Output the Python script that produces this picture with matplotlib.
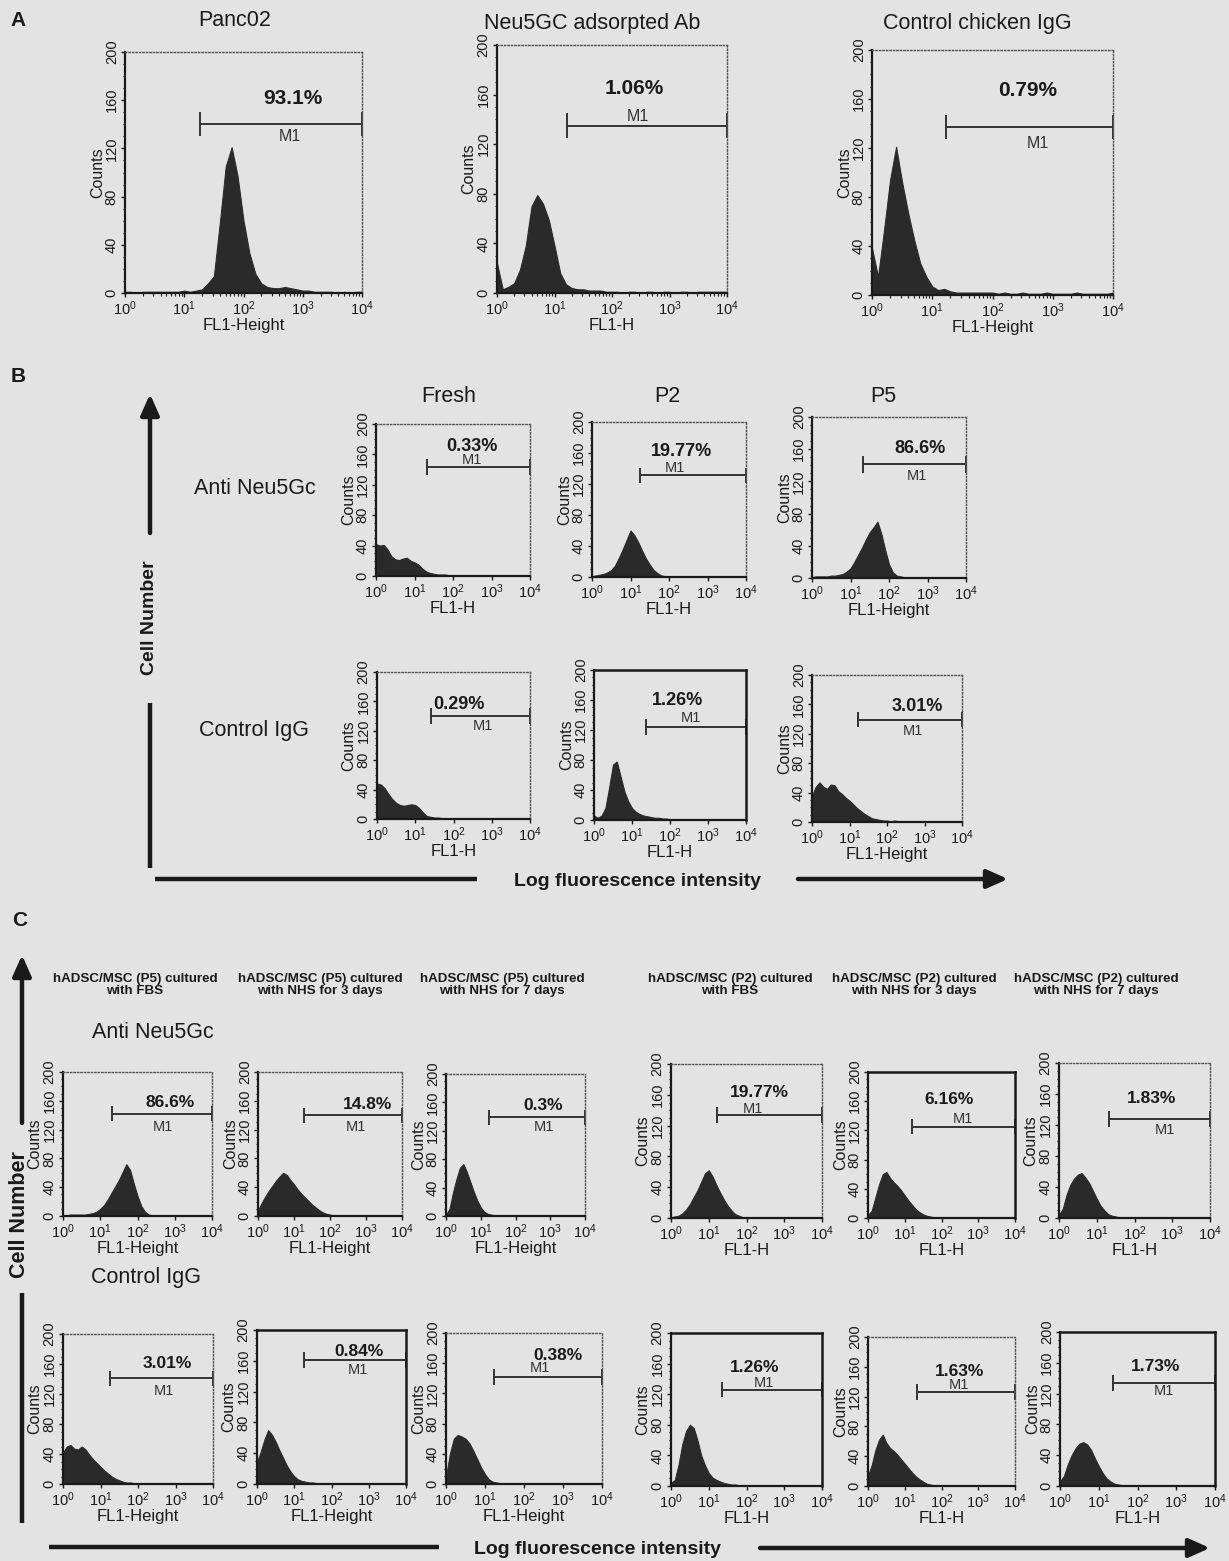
import numpy as np
import matplotlib
matplotlib.use("Agg")
import matplotlib.pyplot as plt
from matplotlib.patches import FancyArrowPatch
from matplotlib.lines import Line2D
from matplotlib.ticker import MultipleLocator, LogLocator, NullFormatter

plt.rcParams['font.family'] = ['Liberation Sans', 'DejaVu Sans']
plt.rcParams['mathtext.fontset'] = 'custom'
plt.rcParams['mathtext.rm'] = 'Liberation Sans'
plt.rcParams['mathtext.it'] = 'Liberation Sans:italic'
plt.rcParams['mathtext.bf'] = 'Liberation Sans:bold'

# FL1 channel grid in decades (10^0 .. 10^4), one bin per 0.1 decade
decades = np.round(np.linspace(0, 4, 41), 2)

# ---- A: Panc02 / adsorbed Ab / control chicken IgG ----
panc02 = [1, 1, 0, 1, 1, 1, 1, 1, 1, 1, 2, 1, 2, 3, 8, 14, 58, 105, 121, 97,
          60, 33, 16, 8, 5, 4, 4, 5, 4, 3, 2, 2, 1, 1, 1, 1, 0, 1, 0, 1, 1]
neu5gc_adsorbed = [24, 3, 5, 8, 19, 38, 70, 79, 72, 59, 38, 16, 7, 4, 3, 3, 2, 2, 2, 1,
                   1, 1, 0, 1, 1, 0, 1, 1, 0, 1, 1, 0, 1, 1, 0, 1, 1, 1, 1, 1, 1]
chicken_igg = [38, 15, 53, 94, 121, 92, 67, 45, 26, 15, 7, 4, 5, 3, 2, 2, 2, 2, 2, 2,
               2, 1, 2, 1, 1, 2, 1, 1, 1, 2, 1, 1, 1, 1, 2, 1, 1, 1, 1, 1, 2]
A_titles = ['Panc02', 'Neu5GC adsorpted Ab', 'Control chicken IgG']
A_pct = ['93.1%', '1.06%', '0.79%']
A_gate_start = [1.26, 1.21, 1.23]
A_gate_level = [140, 135, 137]

# ---- B: Fresh / P2 / P5, anti Neu5Gc (top) and control IgG (bottom) ----
fresh_anti = [42, 40, 41, 35, 26, 22, 21, 23, 24, 20, 18, 15, 10, 6, 4, 3, 2, 2, 2, 1,
              1, 1, 1, 1, 0, 1, 1, 0, 1, 1, 0, 1, 1, 0, 1, 0, 1, 1, 0, 1, 1]
p2_anti = [1, 2, 3, 4, 6, 9, 15, 25, 36, 48, 60, 54, 45, 34, 24, 16, 9, 5, 2, 1,
           1, 1, 0, 1, 0, 1, 1, 0, 1, 0, 1, 1, 0, 1, 0, 1, 0, 1, 1, 0, 1]
p5_anti = [1, 2, 2, 2, 2, 3, 3, 4, 5, 8, 12, 20, 29, 38, 48, 57, 63, 70, 55, 35,
           17, 7, 3, 2, 1, 1, 0, 1, 1, 0, 1, 0, 1, 1, 0, 1, 0, 1, 0, 1, 1]
fresh_ctrl = [48, 47, 42, 34, 27, 22, 19, 18, 19, 20, 19, 15, 9, 4, 3, 2, 2, 1, 1, 1,
              1, 1, 0, 1, 1, 0, 1, 0, 1, 1, 0, 1, 0, 1, 1, 0, 1, 0, 1, 0, 1]
p2_ctrl = [6, 3, 6, 16, 44, 74, 78, 58, 38, 25, 16, 11, 8, 6, 5, 4, 3, 3, 2, 2,
           1, 1, 1, 1, 0, 1, 1, 0, 1, 0, 1, 0, 1, 1, 0, 1, 0, 1, 0, 1, 1]
p5_ctrl = [36, 48, 54, 48, 45, 51, 50, 42, 38, 33, 29, 24, 19, 15, 11, 8, 5, 4, 3, 2,
           2, 1, 2, 1, 1, 1, 1, 0, 1, 1, 1, 0, 1, 1, 1, 0, 1, 1, 0, 1, 1]
B_cols = ['Fresh', 'P2', 'P5']
B_rows = ['Anti Neu5Gc', 'Control IgG']
B_pct_anti = ['0.33%', '19.77%', '86.6%']
B_pct_ctrl = ['0.29%', '1.26%', '3.01%']
B_gate_anti = [(1.33, 143), (1.24, 131), (1.32, 141)]
B_gate_ctrl = [(1.40, 140), (1.38, 124), (1.23, 139)]

# ---- C: P5 and P2 cells cultured with FBS / NHS 3 d / NHS 7 d ----
c_p5_fbs_anti = [1, 1, 2, 2, 2, 2, 2, 3, 4, 6, 10, 15, 23, 32, 41, 50, 61, 72, 64, 45,
                 28, 14, 6, 2, 1, 1, 0, 1, 1, 0, 1, 0, 1, 0, 1, 1, 0, 1, 0, 1, 1]
c_p5_nhs3_anti = [8, 18, 27, 35, 42, 49, 55, 60, 57, 50, 44, 37, 31, 26, 21, 16, 12, 8, 5, 3,
                  2, 1, 1, 1, 0, 1, 1, 0, 1, 0, 1, 1, 0, 1, 0, 1, 0, 1, 1, 0, 1]
c_p5_nhs7_anti = [2, 10, 33, 52, 68, 73, 62, 48, 34, 22, 12, 6, 3, 2, 1, 1, 0, 1, 0, 1,
                  1, 0, 1, 0, 1, 1, 0, 1, 0, 1, 0, 1, 1, 0, 1, 0, 1, 0, 1, 0, 1]
c_p2_fbs_anti = [1, 2, 3, 6, 11, 18, 27, 36, 47, 58, 62, 54, 43, 33, 24, 16, 10, 5, 3, 1,
                 1, 1, 0, 1, 0, 1, 1, 0, 1, 0, 1, 0, 1, 1, 0, 1, 0, 1, 0, 1, 1]
c_p2_nhs3_anti = [4, 10, 28, 46, 60, 63, 55, 49, 44, 38, 31, 24, 18, 12, 8, 5, 3, 2, 1, 1,
                  1, 0, 1, 1, 0, 1, 0, 1, 0, 1, 1, 0, 1, 0, 1, 1, 0, 1, 0, 1, 1]
c_p2_nhs7_anti = [4, 12, 30, 43, 51, 56, 58, 52, 45, 35, 25, 16, 10, 5, 3, 2, 1, 1, 1, 0,
                  1, 1, 0, 1, 0, 1, 0, 1, 1, 0, 1, 0, 1, 0, 1, 0, 1, 1, 0, 1, 1]
c_p5_fbs_ctrl = [42, 50, 52, 47, 46, 50, 46, 39, 33, 28, 23, 18, 14, 10, 7, 5, 3, 2, 2, 1,
                 1, 1, 1, 0, 1, 1, 0, 1, 1, 0, 1, 1, 0, 1, 0, 1, 1, 0, 1, 1, 1]
c_p5_nhs3_ctrl = [28, 42, 58, 70, 64, 55, 44, 34, 24, 16, 10, 6, 4, 3, 2, 2, 1, 1, 1, 0,
                  1, 0, 1, 1, 0, 1, 0, 1, 0, 1, 1, 0, 1, 0, 1, 0, 1, 1, 0, 1, 1]
c_p5_nhs7_ctrl = [10, 40, 60, 65, 63, 60, 54, 44, 33, 22, 13, 6, 3, 2, 1, 1, 0, 1, 0, 1,
                  0, 1, 1, 0, 1, 0, 1, 0, 1, 0, 1, 1, 0, 1, 0, 1, 0, 1, 0, 1, 1]
c_p2_fbs_ctrl = [4, 8, 28, 55, 72, 80, 76, 60, 40, 27, 17, 11, 8, 6, 4, 3, 2, 2, 1, 1,
                 1, 0, 1, 0, 1, 1, 0, 1, 0, 1, 0, 1, 1, 0, 1, 0, 1, 0, 1, 0, 1]
c_p2_nhs3_ctrl = [14, 28, 48, 62, 69, 58, 51, 47, 42, 36, 30, 24, 18, 13, 9, 6, 3, 2, 1, 1,
                  0, 1, 1, 0, 1, 0, 1, 0, 1, 1, 0, 1, 0, 1, 0, 1, 0, 1, 1, 0, 1]
c_p2_nhs7_ctrl = [6, 13, 28, 40, 49, 55, 57, 54, 47, 36, 26, 17, 10, 6, 3, 2, 1, 1, 1, 0,
                  1, 0, 1, 1, 0, 1, 0, 1, 0, 1, 1, 0, 1, 0, 1, 1, 0, 1, 0, 1, 1]
C_cols = ['hADSC/MSC (P5) cultured\nwith FBS', 'hADSC/MSC (P5) cultured\nwith NHS for 3 days',
          'hADSC/MSC (P5) cultured\nwith NHS for 7 days', 'hADSC/MSC (P2) cultured\nwith FBS',
          'hADSC/MSC (P2) cultured\nwith NHS for 3 days', 'hADSC/MSC (P2) cultured\nwith NHS for 7 days']
C_pct_anti = ['86.6%', '14.8%', '0.3%', '19.77%', '6.16%', '1.83%']
C_pct_ctrl = ['3.01%', '0.84%', '0.38%', '1.26%', '1.63%', '1.73%']
C_gate_anti = [(1.31, 142), (1.27, 140), (1.25, 139), (1.23, 134), (1.20, 125), (1.33, 128)]
C_gate_ctrl = [(1.26, 141), (1.25, 161), (1.24, 142), (1.36, 126), (1.34, 126), (1.38, 134)]

# ---------------------------------------------------------------
W, H = 1229, 1561
PAPER = '#e3e3e3'
INK = '#1a1a1a'
FILL = '#2a2a2a'

fig = plt.figure(figsize=(W / 100, H / 100), dpi=100, facecolor=PAPER)


def px_axes(box):
    l, t, r, b = box
    return fig.add_axes([l / W, 1 - b / H, (r - l) / W, (b - t) / H])


def ftext(x, y, s, **kw):
    kw.setdefault('color', INK)
    kw.setdefault('ha', 'center')
    kw.setdefault('va', 'center')
    fig.text(x / W, 1 - y / H, s, **kw)


def fline(x0, y0, x1, y1, lw=3.2):
    fig.add_artist(Line2D([x0 / W, x1 / W], [1 - y0 / H, 1 - y1 / H],
                          transform=fig.transFigure, color=INK, lw=lw,
                          solid_capstyle='butt'))


def farrow(x0, y0, x1, y1, lw=3.2):
    fig.add_artist(FancyArrowPatch((x0 / W, 1 - y0 / H), (x1 / W, 1 - y1 / H),
                                   transform=fig.transFigure, color=INK, lw=lw,
                                   arrowstyle='-|>,head_length=0.9,head_width=0.4',
                                   mutation_scale=14, shrinkA=0, shrinkB=0))


def histo(box, counts, gate, pct, pct_xy, m1_xy, xlabel, frame='dot', pct_fs=13, m1_fs=10.5):
    ax = px_axes(box)
    ax.set_facecolor('none')
    x = 10 ** decades
    ax.fill_between(x, counts, 0, color=FILL, lw=0.8, edgecolor=FILL)
    ax.set_xscale('log')
    ax.set_xlim(1, 1e4)
    ax.set_ylim(0, 200)
    ax.set_xticks([1, 10, 100, 1000, 10000])
    ax.set_xticklabels([r'$10^{%d}$' % i for i in range(5)])
    ax.xaxis.set_minor_locator(LogLocator(base=10, subs=np.arange(2, 10)))
    ax.xaxis.set_minor_formatter(NullFormatter())
    ax.set_yticks([0, 40, 80, 120, 160, 200])
    ax.yaxis.set_minor_locator(MultipleLocator(10))
    ax.tick_params(which='major', direction='out', length=3, width=1, color=INK,
                   labelcolor=INK, labelsize=10.5, pad=1.5)
    ax.tick_params(which='minor', direction='out', length=1.8, width=0.8, color=INK)
    plt.setp(ax.get_yticklabels(), rotation=90, va='center')
    ax.set_ylabel('Counts', fontsize=11.5, color=INK, labelpad=0)
    ax.set_xlabel(xlabel, fontsize=12, color=INK, labelpad=0)
    for s in ('left', 'bottom'):
        ax.spines[s].set_color(INK)
        ax.spines[s].set_linewidth(1.6)
    for s in ('top', 'right'):
        if frame == 'solid':
            ax.spines[s].set_color(INK)
            ax.spines[s].set_linewidth(1.8)
        else:
            ax.spines[s].set_color('#555555')
            ax.spines[s].set_linewidth(1.0)
            ax.spines[s].set_linestyle((0, (1, 1.5)))
    g0, gy = gate
    ax.plot([10 ** g0, 1e4], [gy, gy], color='#333333', lw=1.4, clip_on=False)
    for gx in (10 ** g0, 1e4):
        ax.plot([gx, gx], [gy - 9, gy + 9], color='#333333', lw=1.4, clip_on=False)
    ax.text(10 ** pct_xy[0], pct_xy[1], pct, ha='center', va='center',
            fontweight='bold', fontsize=pct_fs, color=INK)
    ax.text(10 ** m1_xy[0], m1_xy[1], 'M1', ha='center', va='center',
            fontsize=m1_fs, color='#333333')
    return ax


# ---------------- A ----------------
ftext(18, 20, 'A', fontsize=15, fontweight='bold')
A_boxes = [(125, 52, 362, 293), (497, 45, 727, 293), (872, 50, 1113, 295)]
A_title_xy = [(235, 20), (592, 23), (977, 23)]
A_counts = [panc02, neu5gc_adsorbed, chicken_igg]
A_xlab = ['FL1-Height', 'FL1-H', 'FL1-Height']
A_pct_xy = [(2.84, 161), (2.39, 165), (2.59, 167)]
A_m1_xy = [(2.78, 130), (2.45, 142), (2.76, 124)]
for i in range(3):
    histo(A_boxes[i], A_counts[i], (A_gate_start[i], A_gate_level[i]), A_pct[i],
          A_pct_xy[i], A_m1_xy[i], A_xlab[i], pct_fs=15, m1_fs=11.5)
    ftext(*A_title_xy[i], A_titles[i], fontsize=15.5)

# ---------------- B ----------------
ftext(18, 377, 'B', fontsize=15, fontweight='bold')
B_top = [(376, 424, 530, 576), (592, 422, 746, 577), (812, 417, 966, 578)]
B_bot = [(377, 672, 530, 819), (594, 670, 746, 820), (812, 675, 962, 822)]
B_xlab = ['FL1-H', 'FL1-H', 'FL1-Height']
B_pct_xy_anti = [(2.5, 171), (2.33, 162), (2.81, 161)]
B_m1_xy_anti = [(2.5, 152), (2.16, 140), (2.73, 127)]
B_pct_xy_ctrl = [(2.15, 156), (2.19, 159), (2.81, 157)]
B_m1_xy_ctrl = [(2.78, 126), (2.54, 136), (2.70, 124)]
B_anti = [fresh_anti, p2_anti, p5_anti]
B_ctrl = [fresh_ctrl, p2_ctrl, p5_ctrl]
B_title_xy = [(449, 396), (667, 397), (883, 397)]
for i in range(3):
    histo(B_top[i], B_anti[i], B_gate_anti[i], B_pct_anti[i], B_pct_xy_anti[i],
          B_m1_xy_anti[i], B_xlab[i])
    histo(B_bot[i], B_ctrl[i], B_gate_ctrl[i], B_pct_ctrl[i], B_pct_xy_ctrl[i],
          B_m1_xy_ctrl[i], B_xlab[i], frame='solid' if i == 1 else 'dot')
    ftext(*B_title_xy[i], B_cols[i], fontsize=15.5)
ftext(255, 488, B_rows[0], fontsize=15.5)
ftext(254, 730, B_rows[1], fontsize=15.5)

farrow(150, 533, 150, 394)
ftext(150, 618, 'Cell Number', fontsize=14, fontweight='bold', rotation=90)
fline(150, 703, 150, 868)
fline(155, 879, 477, 879)
ftext(637, 881, 'Log fluorescence intensity', fontsize=14, fontweight='bold')
farrow(798, 879, 1008, 879)

# ---------------- C ----------------
ftext(20, 920, 'C', fontsize=15, fontweight='bold')
C_top = [(63, 1072, 212, 1216), (258, 1072, 402, 1216), (446, 1074, 585, 1216),
         (671, 1064, 822, 1218), (868, 1072, 1015, 1218), (1059, 1063, 1210, 1218)]
C_bot = [(63, 1334, 213, 1484), (257, 1330, 406, 1484), (446, 1333, 602, 1484),
         (671, 1333, 822, 1486), (868, 1337, 1015, 1486), (1060, 1332, 1215, 1486)]
C_xlab = ['FL1-Height'] * 3 + ['FL1-H'] * 3
C_anti = [c_p5_fbs_anti, c_p5_nhs3_anti, c_p5_nhs7_anti,
          c_p2_fbs_anti, c_p2_nhs3_anti, c_p2_nhs7_anti]
C_ctrl = [c_p5_fbs_ctrl, c_p5_nhs3_ctrl, c_p5_nhs7_ctrl,
          c_p2_fbs_ctrl, c_p2_nhs3_ctrl, c_p2_nhs7_ctrl]
C_pct_xy_anti = [(2.88, 158), (3.05, 155), (2.81, 155), (2.35, 163), (2.2, 162), (2.44, 154)]
C_m1_xy_anti = [(2.69, 123), (2.72, 123), (2.81, 125), (2.16, 141), (2.58, 136), (2.81, 113)]
C_pct_xy_ctrl = [(2.79, 160), (2.75, 172), (2.86, 170), (2.21, 155), (2.48, 154), (2.47, 155)]
C_m1_xy_ctrl = [(2.69, 124), (2.70, 148), (2.41, 153), (2.47, 135), (2.48, 135), (2.67, 123)]
C_frame_anti = ['dot', 'dot', 'dot', 'dot', 'solid', 'dot']
C_frame_ctrl = ['dot', 'solid', 'dot', 'solid', 'dot', 'solid']
C_col_x = [135, 320, 502, 730, 914, 1096]
for i in range(6):
    histo(C_top[i], C_anti[i], C_gate_anti[i], C_pct_anti[i], C_pct_xy_anti[i],
          C_m1_xy_anti[i], C_xlab[i], frame=C_frame_anti[i], pct_fs=12.5)
    histo(C_bot[i], C_ctrl[i], C_gate_ctrl[i], C_pct_ctrl[i], C_pct_xy_ctrl[i],
          C_m1_xy_ctrl[i], C_xlab[i], frame=C_frame_ctrl[i], pct_fs=12.5)
    ftext(C_col_x[i], 985, C_cols[i], fontsize=9.6, fontweight='bold', linespacing=1.0)
ftext(153, 1033, 'Anti Neu5Gc', fontsize=15.5)
ftext(146, 1277, 'Control IgG', fontsize=15.5)

farrow(22, 1123, 22, 955)
ftext(20, 1215, 'Cell Number', fontsize=15.5, fontweight='bold', rotation=90)
fline(22, 1293, 22, 1523)
fline(49, 1547, 439, 1547)
ftext(598, 1549, 'Log fluorescence intensity', fontsize=14, fontweight='bold')
farrow(760, 1548, 1210, 1548)

fig.savefig('out.png', dpi=100, facecolor=PAPER)
